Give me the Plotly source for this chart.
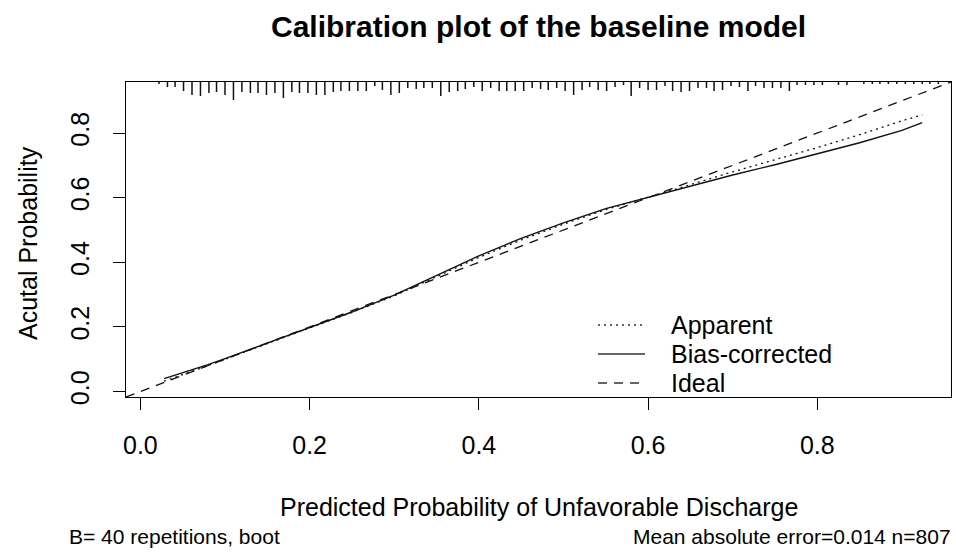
import plotly.graph_objects as go

# ---------------- data ----------------
curve_x = [0.028, 0.05, 0.08, 0.10, 0.15, 0.20, 0.25, 0.30, 0.35, 0.40, 0.45,
           0.50, 0.55, 0.60, 0.65, 0.70, 0.75, 0.80, 0.85, 0.90, 0.924]
bias_corrected = [0.040, 0.058, 0.083, 0.102, 0.150, 0.198, 0.246, 0.298, 0.358,
                  0.420, 0.474, 0.522, 0.566, 0.601, 0.636, 0.670, 0.702, 0.735,
                  0.770, 0.808, 0.832]
apparent = [0.032, 0.052, 0.080, 0.100, 0.148, 0.197, 0.245, 0.296, 0.355, 0.415,
            0.469, 0.518, 0.563, 0.601, 0.640, 0.680, 0.717, 0.755, 0.795, 0.838,
            0.856]
ideal_x = [-0.017, 0.958]
ideal_y = [-0.017, 0.958]

# predicted-probability distribution (rug at top), bin positions and relative frequencies
rug_x = [0.022, 0.032, 0.041, 0.051, 0.061, 0.071, 0.081, 0.090, 0.100, 0.110,
         0.120, 0.130, 0.139, 0.149, 0.159, 0.169, 0.179, 0.188, 0.198, 0.208,
         0.218, 0.228, 0.237, 0.247, 0.257, 0.267, 0.277, 0.286, 0.296, 0.306,
         0.316, 0.326, 0.335, 0.345, 0.355, 0.365, 0.375, 0.384, 0.394, 0.404,
         0.414, 0.424, 0.433, 0.443, 0.453, 0.463, 0.473, 0.482, 0.492, 0.502,
         0.512, 0.522, 0.531, 0.541, 0.551, 0.561, 0.571, 0.580, 0.590, 0.600,
         0.610, 0.620, 0.629, 0.639, 0.649, 0.659, 0.669, 0.678, 0.688, 0.698,
         0.708, 0.718, 0.727, 0.737, 0.747, 0.757, 0.767, 0.776, 0.786, 0.796,
         0.806, 0.816, 0.825, 0.835, 0.845, 0.855, 0.865, 0.874, 0.884, 0.894,
         0.904, 0.914, 0.924, 0.933, 0.943]
rug_freq = [2, 5, 5, 9, 13, 14, 11, 10, 13, 18, 10, 11, 11, 13, 11, 16, 10, 11, 11, 13,
            13, 10,
            9, 9, 9, 9, 4, 8, 13, 11, 6, 7, 6, 6, 14, 10, 9, 7, 5, 9, 6, 9, 9, 9, 9, 6, 7,
            8, 6, 9, 13, 8, 5, 8, 9, 5, 3, 14, 6, 8, 8, 4, 9, 10, 9, 6, 6, 9, 8, 4, 5, 9,
            4, 6, 6, 6, 9, 3, 3, 3, 3, 0, 3, 3, 0, 2, 2, 2, 2, 2, 2, 2, 2, 2, 2]

x_ticks = [0.0, 0.2, 0.4, 0.6, 0.8]
y_ticks = [0.0, 0.2, 0.4, 0.6, 0.8]
x_range = [-0.017, 0.958]
y_range = [-0.017, 0.958]

FONT = "Liberation Sans, Arial, sans-serif"

fig = go.Figure()

# rug segments hanging from top border
rug_scale = (y_range[1] - y_range[0]) / 315.0  # one frequency unit = one pixel
rx, ry = [], []
for xv, fv in zip(rug_x, rug_freq):
    if fv <= 0:
        continue
    rx += [xv, xv, None]
    ry += [y_range[1], y_range[1] - fv * rug_scale, None]
fig.add_trace(go.Scatter(x=rx, y=ry, mode="lines", line=dict(color="#111", width=1.5),
                         showlegend=False, hoverinfo="skip"))

fig.add_trace(go.Scatter(x=ideal_x, y=ideal_y, mode="lines",
                         line=dict(color="#111", width=1.3, dash="9px,7px"),
                         name="Ideal", showlegend=False))
fig.add_trace(go.Scatter(x=curve_x, y=apparent, mode="lines",
                         line=dict(color="#111", width=1.3, dash="2px,4px"),
                         name="Apparent", showlegend=False))
fig.add_trace(go.Scatter(x=curve_x, y=bias_corrected, mode="lines",
                         line=dict(color="#111", width=1.4),
                         name="Bias-corrected", showlegend=False))

# ---------------- layout ----------------
L, R, T, B = 126, 5, 82, 157
W, H = 956, 554
pw, ph = W - L - R, H - T - B

def px(xp):
    return (xp - L) / pw

def py(yp):
    return (H - B - yp) / ph

ann = []
ann.append(dict(text="<b>Calibration plot of the baseline model</b>", x=0.5, y=py(27),
                xref="paper", yref="paper", showarrow=False, xanchor="center",
                yanchor="middle", font=dict(size=30, family=FONT, color="black")))
ann.append(dict(text="Predicted Probability of Unfavorable Discharge", x=0.5, y=py(507),
                xref="paper", yref="paper", showarrow=False, xanchor="center",
                yanchor="middle", font=dict(size=25, family=FONT, color="black")))
ann.append(dict(text="Acutal Probability", x=px(28), y=py(243), textangle=-90,
                xref="paper", yref="paper", showarrow=False, xanchor="center",
                yanchor="middle", font=dict(size=25, family=FONT, color="black")))
ann.append(dict(text="B= 40 repetitions, boot", x=px(67), y=py(536),
                xref="paper", yref="paper", showarrow=False, xanchor="left",
                yanchor="middle", font=dict(size=21, family=FONT, color="black")))
ann.append(dict(text="Mean absolute error=0.014 n=807", x=px(953), y=py(536),
                xref="paper", yref="paper", showarrow=False, xanchor="right",
                yanchor="middle", font=dict(size=21, family=FONT, color="black")))

# manual legend (R style, no box)
legend_items = [("Apparent", "2px,4px", 325), ("Bias-corrected", "solid", 354),
                ("Ideal", "9px,7px", 383)]
shapes = []
for label, dash, yy in legend_items:
    shapes.append(dict(type="line", xref="paper", yref="paper",
                       x0=px(598), x1=px(645), y0=py(yy), y1=py(yy),
                       line=dict(color="#333", width=1.4, dash=dash)))
    ann.append(dict(text=label, x=px(669), y=py(yy), xref="paper", yref="paper",
                    showarrow=False, xanchor="left", yanchor="middle",
                    font=dict(size=25, family=FONT, color="black")))

fig.update_layout(
    width=W, height=H,
    margin=dict(l=L, r=R, t=T, b=B),
    paper_bgcolor="white", plot_bgcolor="white",
    font=dict(family=FONT, color="black"),
    showlegend=False,
    annotations=ann, shapes=shapes,
    xaxis=dict(range=x_range, tickvals=x_ticks, ticktext=[f"{v:.1f}" for v in x_ticks],
               ticks="outside", ticklen=12, tickwidth=1, tickcolor="black",
               showline=True, linecolor="black", linewidth=1, mirror=True,
               showgrid=False, zeroline=False, ticklabelstandoff=14,
               tickfont=dict(size=25, family=FONT, color="black")),
    yaxis=dict(range=y_range, tickvals=y_ticks, ticktext=[f"{v:.1f}" for v in y_ticks],
               ticks="outside", ticklen=12, tickwidth=1, tickcolor="black",
               showline=True, linecolor="black", linewidth=1, mirror=True,
               showgrid=False, zeroline=False, tickangle=-90, ticklabelstandoff=14,
               tickfont=dict(size=25, family=FONT, color="black")),
)

fig.write_html("out.html")
